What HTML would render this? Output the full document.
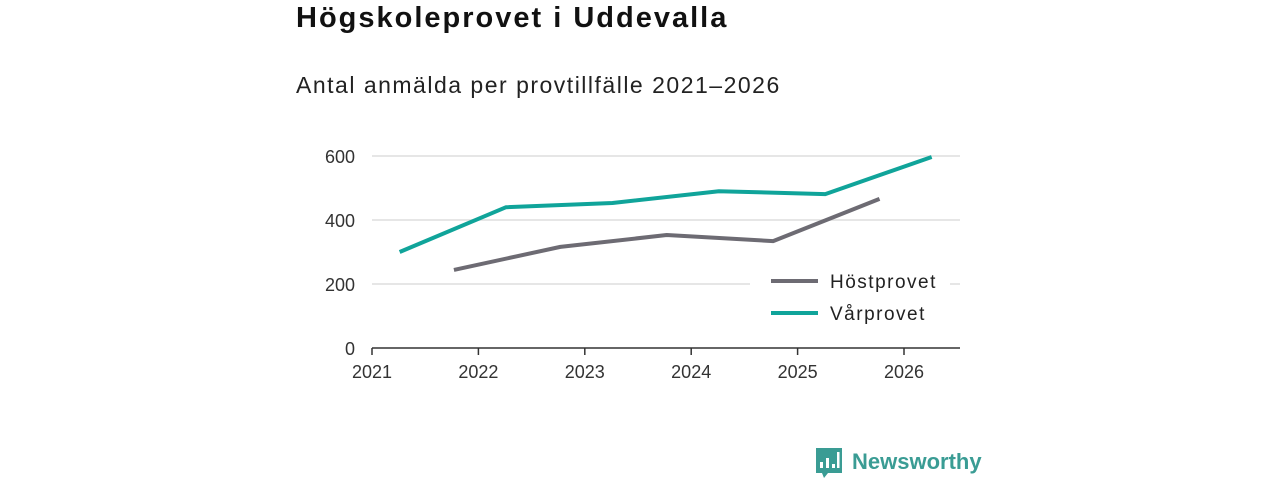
<!DOCTYPE html>
<html><head><meta charset="utf-8"><style>
body{margin:0;width:1280px;height:480px;background:#fff;font-family:"Liberation Sans",sans-serif;overflow:hidden;position:relative}
#title{position:absolute;left:296px;top:2px;font-size:29px;font-weight:bold;color:#111;letter-spacing:2px}
#sub{position:absolute;left:296px;top:72px;font-size:23px;color:#222;letter-spacing:1.5px}
svg{position:absolute;left:0;top:0}
</style></head><body>
<div id="title">Högskoleprovet i Uddevalla</div>
<div id="sub">Antal anmälda per provtillfälle 2021–2026</div>
<svg id="c" width="1280" height="480"></svg>
<script>
const yTicks=[0,200,400,600];
const xTicks=[2021,2022,2023,2024,2025,2026];
const varDates=[2021.26,2022.26,2023.26,2024.26,2025.26,2026.26];
const varVals=[300,440,453,490,481,597];
const hostDates=[2021.77,2022.77,2023.77,2024.77,2025.77];
const hostVals=[244,316,353,334,466];
const NS='http://www.w3.org/2000/svg';
const svg=document.getElementById('c');
const X=v=>372+(v-2021)*106.4;
const Y=v=>348-v*0.32;
function el(t,a,p){const e=document.createElementNS(NS,t);for(const k in a)e.setAttribute(k,a[k]);(p||svg).appendChild(e);return e;}
yTicks.forEach(t=>{
 if(t>0){const g=el('line',{x1:372,x2:960,y1:Y(t),y2:Y(t),stroke:'#ddd','stroke-width':1.5});
 
 }
 const tx=el('text',{x:355,y:Y(t)+7,'text-anchor':'end','font-size':18,fill:'#333'});tx.textContent=t;
 
 
});
const ax=el('line',{x1:372,x2:960,y1:348,y2:348,stroke:'#333','stroke-width':1.5});


xTicks.forEach(t=>{
 el('line',{x1:X(t),x2:X(t),y1:348,y2:355,stroke:'#333','stroke-width':1.5});
 const tx=el('text',{x:X(t),y:378,'text-anchor':'middle','font-size':18,fill:'#333'});tx.textContent=t;
 
 
});
function line(d,v,c,n){const p=el('polyline',{points:d.map((x,i)=>X(x)+','+Y(v[i])).join(' '),fill:'none',stroke:c,'stroke-width':4,'stroke-linejoin':'round'});
 
 }
line(hostDates,hostVals,'#6d6b73','series-hostprovet');
line(varDates,varVals,'#10a49a','series-varprovet');
[['Höstprovet','#6d6b73',281],['Vårprovet','#10a49a',313]].forEach(([n,c,y])=>{
 el('rect',{x:750,y:y-16,width:200,height:30,fill:'#fff'});
 el('line',{x1:771,x2:818,y1:y,y2:y,stroke:c,'stroke-width':4});
 const t=el('text',{x:830,y:y+7,'font-size':19,fill:'#222','letter-spacing':1.5});t.textContent=n;
 
 
});
const lg=el('g',{});


el('path',{d:'M816 448h26v25h-14l-4 5-2-5h-6z',fill:'#3a9c94'},lg);
el('rect',{x:820,y:462,width:3,height:6,fill:'#fff'},lg);
el('rect',{x:826,y:458,width:3,height:10,fill:'#fff'},lg);
el('rect',{x:832,y:464,width:3,height:4,fill:'#fff'},lg);
el('rect',{x:837,y:452,width:2.5,height:16,fill:'#fff'},lg);
const lt=el('text',{x:852,y:469,'font-size':22,'font-weight':'bold',fill:'#3a9c94'},lg);lt.textContent='Newsworthy';
</script>
</body></html>
